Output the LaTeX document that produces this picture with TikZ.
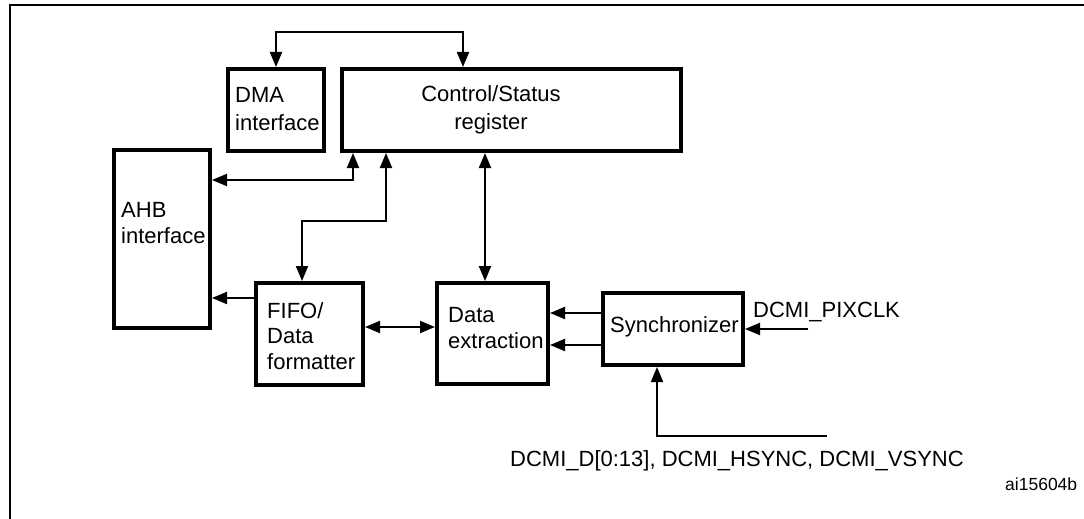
\documentclass[tikz,border=0pt]{standalone}
\usepackage{fontspec}
\setmainfont{Liberation Sans}
\usetikzlibrary{arrows.meta}
\begin{document}
\begin{tikzpicture}[x=1pt,y=-1pt,
  >={Triangle[length=15pt,width=12pt]},
  box/.style={draw,line width=4pt,inner sep=0pt},
  conn/.style={line width=2pt},
  txt/.style={inner sep=0pt,align=left,anchor=base west,font=\fontsize{22}{25.5}\selectfont},
  txtw/.style={inner sep=0pt,align=left,anchor=base west,font=\fontsize{22}{27.5}\selectfont},
  frame/.style={line width=2.5pt}]
\useasboundingbox (0,0) rectangle (1084,519);
% frame
\draw[frame] (10,519) -- (10,5) -- (1084,5);
% boxes
\node[box,minimum width=96pt,minimum height=82pt] (dma) at (276,110) {};
\node[box,minimum width=339pt,minimum height=82pt] (csr) at (511.5,110) {};
\node[box,minimum width=96pt,minimum height=178pt] (ahb) at (162,239) {};
\node[box,minimum width=107pt,minimum height=102pt] (fifo) at (309.5,334) {};
\node[box,minimum width=111pt,minimum height=101pt] (dext) at (492.5,333.5) {};
\node[box,minimum width=140pt,minimum height=72pt] (sync) at (673,329) {};
% texts (anchor = baseline of last line)
\node[txtw] (dmat) at (235,130) {DMA\\interface};
\node[txtw,align=center,anchor=base] (csrt) at (491,129) {Control/Status\\register};
\node[txt] (ahbt) at (121,243) {AHB\\interface};
\node[txt] (fifot) at (267,369) {FIFO/\\Data\\formatter};
\node[txt] (dextt) at (448,348) {Data\\extraction};
\node[txt] (synct) at (610,332) {Synchronizer};
\node[txt] (pixt) at (753,317) {DCMI\_PIXCLK};
\node[txt] (dint) at (510,466) {DCMI\_D[0:13], DCMI\_HSYNC, DCMI\_VSYNC};
\node[txt,font=\fontsize{17.5}{20}\selectfont] (refid) at (1005,490) {ai15604b};
% connectors
\draw[conn,<->] (dma.north) -- (dma.north |- 0,32) -| (csr.north -| 463,0);
\draw[conn,<->] (ahb.east |- 0,180) -| (csr.south -| 353,0);
\draw[conn,<->] (csr.south -| 386,0) -- (386,221) -| (fifo.north -| 302,0);
\draw[conn,<->] (csr.south -| 485,0) -- (dext.north -| 485,0);
\draw[conn,->] (fifo.west |- 0,298) -- (ahb.east |- 0,298);
\draw[conn,<->] (fifo.east |- 0,327) -- (dext.west |- 0,327);
\draw[conn,->] (sync.west |- 0,313) -- (dext.east |- 0,313);
\draw[conn,->] (sync.west |- 0,345) -- (dext.east |- 0,345);
\coordinate (pix) at (808,329);
\draw[conn,->] (pix) -- (sync.east |- pix);
\coordinate (din) at (827,436);
\draw[conn,->] (din) -| (sync.south -| 657,0);
\end{tikzpicture}
\end{document}
